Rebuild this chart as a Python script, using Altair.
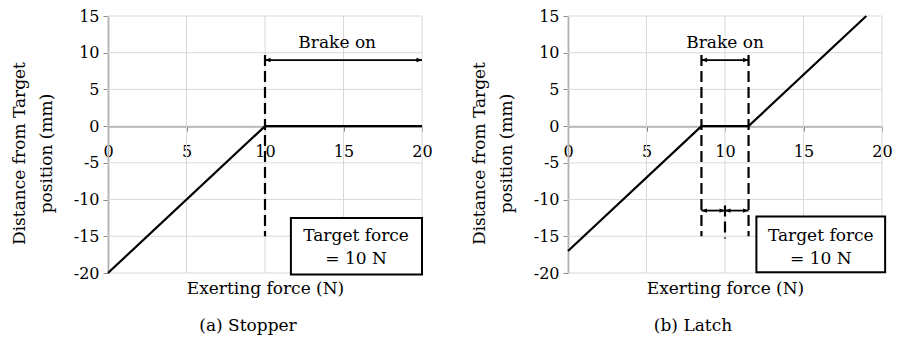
import altair as alt
import pandas as pd

# ---------------- data ----------------
stopper_force = [0, 10, 20]
stopper_dist = [-20, 0, 0]
latch_force = [0, 8.5, 11.5, 19]
latch_dist = [-17, 0, 0, 15]

x_ticks = [0, 5, 10, 15, 20]
y_ticks = [-20, -15, -10, -5, 0, 5, 10, 15]

# annotation geometry in data units
stopper_dash_x = [10]
stopper_dash_top = [9.7]
stopper_dash_bottom = [-15]
latch_dash_x = [8.5, 11.5, 10]
latch_dash_top = [9.7, 9.7, -10.8]
latch_dash_bottom = [-15, -15, -15.3]

stopper_arrow_from = [10]
stopper_arrow_to = [20]
stopper_arrow_y = [9]
latch_arrow_from = [8.5, 8.5, 10]
latch_arrow_to = [11.5, 10, 11.5]
latch_arrow_y = [9, -11.5, -11.5]

label_text = "Brake on"
stopper_label_x = [14.6]
latch_label_x = [10]
label_y = [10.6]

box_lines = ["Target force", "= 10 N"]
box_line_y = [-14.9, -18.1]
stopper_box = {"x": [11.65], "x2": [20], "y": [-12.5], "y2": [-20.2]}
latch_box = {"x": [12.0], "x2": [20.2], "y": [-12.3], "y2": [-19.9]}
stopper_box_text_x = [15.8]
latch_box_text_x = [16.1]

captions = ["(a) Stopper", "(b) Latch"]

# ---------------- style ----------------
W, H = 314, 257
FONT = "DejaVu Serif"
TXT = 17
XTITLE = 17
YTITLE = 17
TICK = 16
GRID = "#d9d9d9"
AXC = "#888888"
x_scale = alt.Scale(domain=[0, 20], nice=False, zero=False)
y_scale = alt.Scale(domain=[-20, 15], nice=False, zero=False)
RIGHT_HEAD = "M0,0L-1,-0.4L-1,0.4Z"
LEFT_HEAD = "M0,0L1,-0.4L1,0.4Z"


def panel(fx, fy, dx, dtop, dbot, afrom, ato, ay, lx, box, btx, caption, cap_dx):
    x_axis = alt.Axis(
        values=x_ticks, tickCount=len(x_ticks), title="Exerting force (N)",
        offset=-H * 20 / 35,
        grid=False, domainColor=AXC, domainWidth=1.5,
        tickColor=AXC, tickSize=5, labelPadding=12, labelFlush=False,
        labelOverlap=False, labelSeparation=0, labelExpr="'' + datum.value",
        labelFont=FONT, labelFontSize=TICK, labelColor="black",
        titleFont=FONT, titleFontSize=XTITLE, titleFontWeight="normal",
        titleColor="black", titleY=167, titleBaseline="alphabetic",
    )
    y_axis = alt.Axis(
        values=y_ticks, tickCount=len(y_ticks),
        title=["Distance from Target", "position (mm)"],
        grid=False, domainColor=AXC, domainWidth=1.5,
        tickColor=AXC, tickSize=5, labelPadding=4, labelFlush=False,
        labelOverlap=False, labelSeparation=0, labelBound=False,
        labelExpr="'' + datum.value",
        labelFont=FONT, labelFontSize=TICK, labelColor="black",
        titleFont=FONT, titleFontSize=YTITLE, titleFontWeight="normal",
        titleColor="black", titleX=-97, titleY=137, titleBaseline="top",
        titleAlign="center", titleLineHeight=27,
    )
    vgrid = alt.Chart(pd.DataFrame({"gx": x_ticks})).mark_rule(
        color=GRID, strokeWidth=1
    ).encode(x=alt.X("gx:Q", scale=x_scale, axis=x_axis))
    hgrid = alt.Chart(pd.DataFrame({"gy": y_ticks})).mark_rule(
        color=GRID, strokeWidth=1
    ).encode(y=alt.Y("gy:Q", scale=y_scale, axis=y_axis))
    line = alt.Chart(pd.DataFrame({"force": fx, "dist": fy})).mark_line(
        color="black", strokeWidth=2.2
    ).encode(x="force:Q", y="dist:Q")
    dashes = alt.Chart(pd.DataFrame({"x": dx, "y": dtop, "y2": dbot})).mark_rule(
        color="black", strokeWidth=2.2, strokeDash=[11, 5]
    ).encode(x="x:Q", y="y:Q", y2="y2:Q")
    arrows_df = pd.DataFrame({"x": afrom, "x2": ato, "y": ay})
    arrows = alt.Chart(arrows_df).mark_rule(color="black", strokeWidth=1.8).encode(
        x="x:Q", x2="x2:Q", y="y:Q"
    )
    lheads = alt.Chart(arrows_df).mark_point(
        shape=LEFT_HEAD, filled=True, color="black", size=120, opacity=1
    ).encode(x="x:Q", y="y:Q")
    rheads = alt.Chart(arrows_df).mark_point(
        shape=RIGHT_HEAD, filled=True, color="black", size=120, opacity=1
    ).encode(x="x2:Q", y="y:Q")
    label = alt.Chart(pd.DataFrame({"x": lx, "y": label_y, "t": [label_text]})).mark_text(
        font=FONT, fontSize=TXT, color="black", baseline="alphabetic"
    ).encode(x="x:Q", y="y:Q", text="t:N")
    rect = alt.Chart(pd.DataFrame(box)).mark_rect(
        fill="white", stroke="black", strokeWidth=2
    ).encode(x="x:Q", x2="x2:Q", y="y:Q", y2="y2:Q")
    btext = alt.Chart(pd.DataFrame({"x": btx * 2, "y": box_line_y, "t": box_lines})).mark_text(
        font=FONT, fontSize=TXT, color="black", baseline="middle"
    ).encode(x="x:Q", y="y:Q", text="t:N")
    return alt.layer(vgrid, hgrid, line, dashes, arrows, lheads, rheads, label, rect, btext).properties(
        width=W, height=H,
        title=alt.TitleParams(
            caption, orient="bottom", anchor="middle", frame="group", dx=cap_dx,
            offset=22, font=FONT, fontSize=TXT, fontWeight="normal", color="black",
        ),
    )


left = panel(stopper_force, stopper_dist, stopper_dash_x, stopper_dash_top, stopper_dash_bottom,
             stopper_arrow_from, stopper_arrow_to, stopper_arrow_y, stopper_label_x,
             stopper_box, stopper_box_text_x, captions[0], -17)
right = panel(latch_force, latch_dist, latch_dash_x, latch_dash_top, latch_dash_bottom,
              latch_arrow_from, latch_arrow_to, latch_arrow_y, latch_label_x,
              latch_box, latch_box_text_x, captions[1], -32)

chart = alt.hconcat(left, right, spacing=146, bounds="flush").properties(
    padding={"left": 2, "top": 0, "right": 0, "bottom": 0}
).configure_view(strokeOpacity=0).configure_axis(labelOverlap=False)

chart.save("out.html", embed_options={"renderer": "svg", "actions": False})
